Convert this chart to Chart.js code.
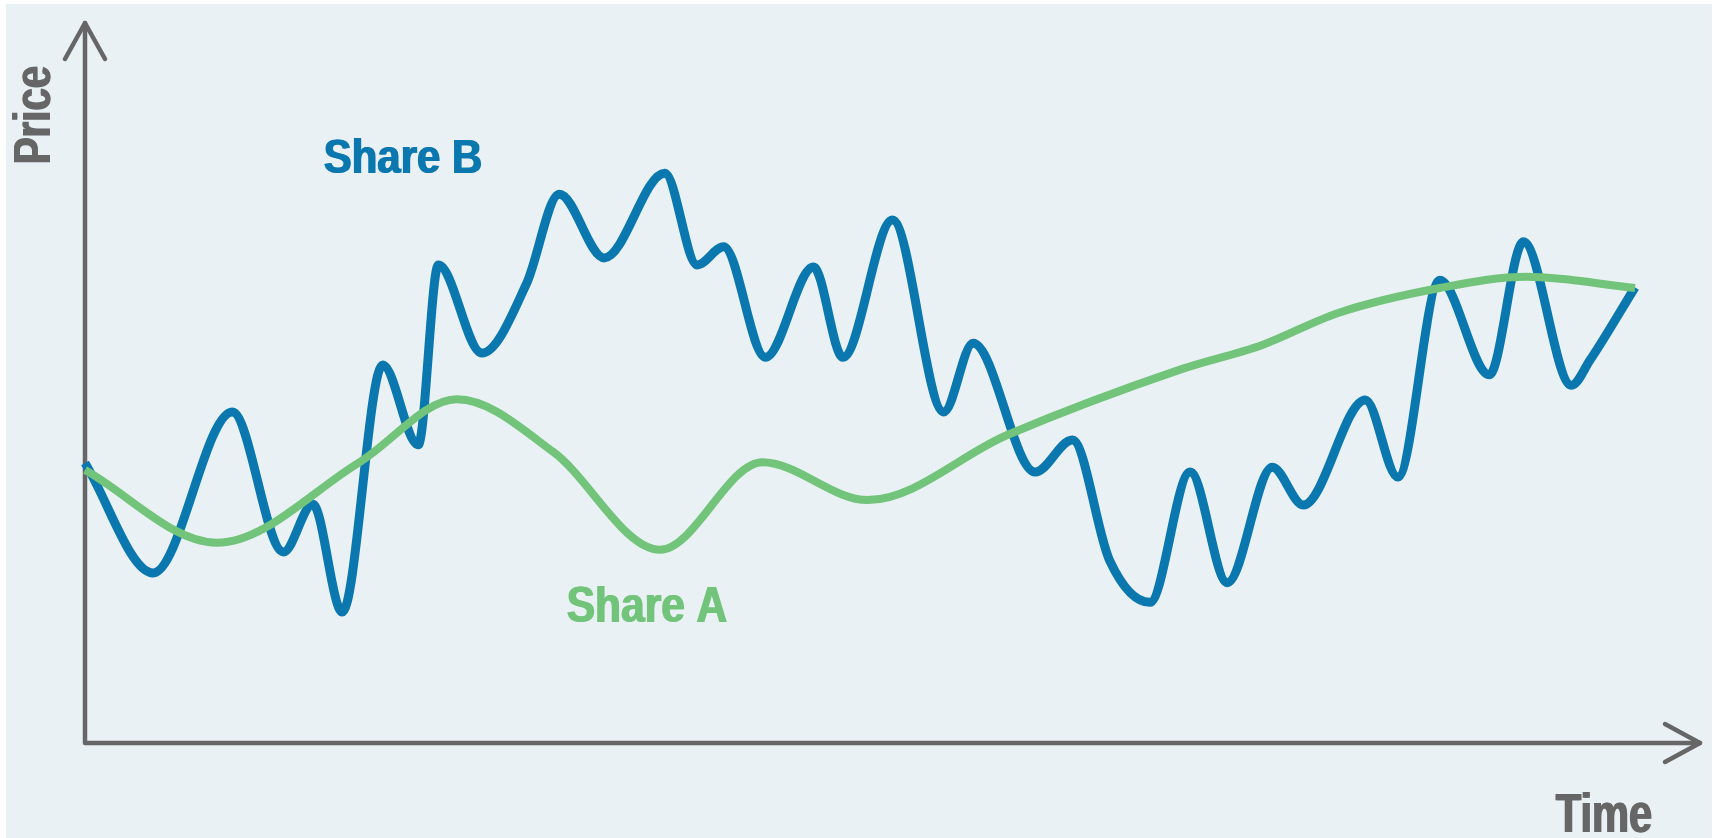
<!DOCTYPE html>
<html>
<head>
<meta charset="utf-8">
<title>Share price</title>
<script src="https://cdn.jsdelivr.net/npm/chart.js@4/dist/chart.umd.min.js"></script>
<style>
    html, body { margin: 0; padding: 0; background: #ffffff; }
    #myChartContainer { width: 1720px; height: 838px; }
</style>
</head>
<body>
<div id="myChartContainer"><canvas id="myChart"></canvas></div>
<script>
// time runs 0..100 along the x axis, price 0..100 up the y axis
var shareATime  = [0, 8.5, 17.7, 24.0, 30.2, 37.1, 43.7, 50.5, 59.5, 70.6, 76.0, 80.8, 87.4, 93.0, 100];
var shareAPrice = [39.0, 28.6, 40.1, 49.1, 41.6, 27.6, 40.1, 34.7, 44.0, 53.3, 56.9, 61.4, 65.0, 66.6, 65.0];

var shareBTime  = [0, 4.4, 9.5, 12.8, 14.7, 16.6, 19.2, 21.5, 22.8, 25.6, 28.5, 30.6, 33.5, 37.4, 39.5,
                   41.2, 43.9, 47.0, 48.9, 52.1, 55.4, 57.3, 61.3, 63.7, 66.1, 68.7, 71.3, 73.7, 76.6,
                   78.6, 82.6, 84.7, 87.4, 90.6, 92.8, 95.9, 97.1, 100];
var shareBPrice = [40.0, 24.3, 47.3, 27.3, 34.1, 18.7, 54.0, 42.6, 68.3, 55.7, 65.7, 78.4, 69.3, 81.4, 68.3,
                   70.9, 55.1, 68.0, 55.1, 74.7, 47.3, 57.1, 38.7, 43.3, 26.1, 20.1, 38.7, 22.9, 39.4,
                   34.0, 49.0, 38.0, 66.1, 52.6, 71.6, 51.1, 54.7, 65.1];

var seriesNames = ['Share A', 'Share B'];
var axisTitles = ['Time', 'Price'];

function toPoints(xs, ys) {
    return xs.map(function(x, i){ return {x: x, y: ys[i]}; });
}

// bold text squeezed to a given width; drawn twice a pixel apart for heavier stems
function narrowText(ctx, text, x, y, size, width, color, angle) {
    ctx.save();
    ctx.font = 'bold ' + size + 'px "Liberation Sans", Arial, sans-serif';
    ctx.fillStyle = color;
    ctx.textBaseline = 'alphabetic';
    ctx.textAlign = 'left';
    ctx.translate(x, y);
    if (angle) ctx.rotate(angle);
    var sx = (width - 1.5) / ctx.measureText(text).width;
    ctx.scale(sx, 1);
    ctx.fillText(text, 0, 0);
    ctx.fillText(text, 1.5 / sx, 0);
    ctx.restore();
}

var backdrop = {
    id: 'backdrop',
    beforeDraw: function(chart){
        var ctx = chart.ctx;
        ctx.save();
        ctx.fillStyle = '#ffffff';
        ctx.fillRect(0, 0, chart.width, chart.height);
        ctx.fillStyle = '#e9f1f5';
        ctx.fillRect(6, 4, chart.width - 14, chart.height - 4);
        ctx.restore();
    }
};

var arrowAxes = {
    id: 'arrowAxes',
    beforeDatasetsDraw: function(chart){
        var ctx = chart.ctx, a = chart.chartArea;
        var top = a.top - 20, right = a.right + 65;
        ctx.save();
        ctx.strokeStyle = '#666666';
        ctx.lineWidth = 4.5;
        ctx.lineJoin = 'round';
        ctx.lineCap = 'round';
        ctx.beginPath();
        ctx.moveTo(a.left, top);
        ctx.lineTo(a.left, a.bottom);
        ctx.lineTo(right, a.bottom);
        ctx.stroke();
        ctx.beginPath();
        ctx.moveTo(a.left - 20, top + 36);
        ctx.lineTo(a.left, top);
        ctx.lineTo(a.left + 20, top + 36);
        ctx.moveTo(right - 35, a.bottom - 19);
        ctx.lineTo(right, a.bottom);
        ctx.lineTo(right - 35, a.bottom + 19);
        ctx.stroke();
        ctx.restore();

        narrowText(ctx, axisTitles[0], 1555, 832, 55, 98, '#666666');
        narrowText(ctx, axisTitles[1], 50, 165, 52, 100, '#666666', -Math.PI / 2);
    },
    afterDatasetsDraw: function(chart){
        var ctx = chart.ctx, ds = chart.data.datasets;
        narrowText(ctx, ds[1].label, 323, 173, 49, 160, ds[1].borderColor);
        narrowText(ctx, ds[0].label, 566, 622, 50, 162, ds[0].borderColor);
    }
};

document.addEventListener('DOMContentLoaded', function(){
    var data = {
        datasets: [{
            label: seriesNames[0],
            data: toPoints(shareATime, shareAPrice),
            borderColor: '#72c47a',
            borderWidth: 8
        }, {
            label: seriesNames[1],
            data: toPoints(shareBTime, shareBPrice),
            borderColor: '#0a78ae',
            borderWidth: 9
        }]
    };
    var options = {
        responsive: true,
        maintainAspectRatio: false,
        animation: false,
        layout: { padding: { left: 85, right: 85, top: 43, bottom: 95 } },
        elements: {
            point: { radius: 0, hoverRadius: 0 },
            line: { cubicInterpolationMode: 'monotone', borderJoinStyle: 'round', fill: false }
        },
        datasets: { line: { clip: false } },
        scales: {
            x: { type: 'linear', min: 0, max: 100, display: false },
            y: { type: 'linear', min: 0, max: 100, display: false }
        },
        plugins: {
            legend: { display: false },
            tooltip: { enabled: false }
        }
    };

    var ctx = document.getElementById('myChart').getContext('2d');
    var myChart = new Chart(ctx, {
        type: 'line',
        data: data,
        options: options,
        plugins: [backdrop, arrowAxes]
    });
});
</script>
</body>
</html>
